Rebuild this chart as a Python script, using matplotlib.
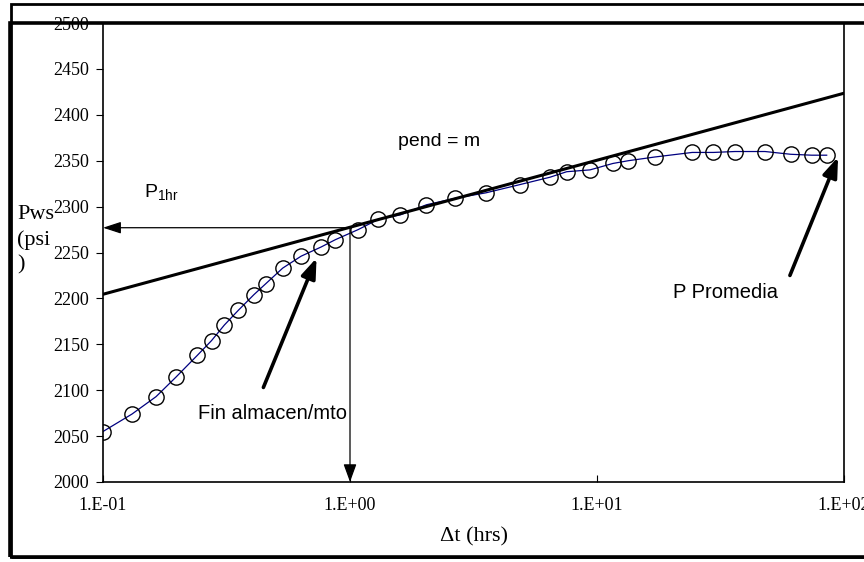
import matplotlib
matplotlib.use("Agg")
import matplotlib.pyplot as plt
from matplotlib.patches import Rectangle

# buildup test data, Pws vs dt (semilog)
dt = [0.1, 0.131, 0.164, 0.197, 0.241, 0.275, 0.31, 0.353, 0.408, 0.456,
      0.534, 0.634, 0.764, 0.873, 1.08, 1.30, 1.60, 2.04, 2.66, 3.55,
      4.88, 6.45, 7.54, 9.37, 11.6, 13.4, 17.1, 24.3, 29.6, 36.2,
      47.9, 60.8, 74.0, 85.1]
pws = [2055, 2074, 2093, 2114, 2138, 2154, 2171, 2187, 2204, 2216,
       2233, 2246, 2256, 2264, 2275, 2286, 2291, 2302, 2309, 2315,
       2324, 2332, 2338, 2340, 2347, 2350, 2354, 2359, 2359, 2360,
       2360, 2357, 2356, 2356]

# straight line (slope m)
tan_x = [0.1, 100]
tan_y = [2204.5, 2423.5]

p1hr = 2277
t1hr = 1.0

fin_tail = (0.446, 2103)
fin_tip = (0.732, 2244)
prom_tail = (60.4, 2225)
prom_tip = (94.6, 2354)

xticks = [0.1, 1, 10, 100]
xlabels = ['1.E-01', '1.E+00', '1.E+01', '1.E+02']
yticks = list(range(2000, 2501, 50))

W, H = 864, 562
serif = 'Liberation Serif'
sans = 'Liberation Sans'


def fx(x):
    return x / W


def fy(y):
    return 1 - y / H


fig = plt.figure(figsize=(8.64, 5.62), dpi=100)
ax = fig.add_axes([fx(103), fy(482), fx(844) - fx(103), fy(23) - fy(482)])

ax.plot(dt, pws, '-', color='#000080', lw=0.9, zorder=2)
ax.plot(dt, pws, 'o', mfc='none', mec='black', ms=11, mew=1.0, zorder=3)
ax.plot(tan_x, tan_y, '-', color='black', lw=2.2, zorder=4)

ax.set_xscale('log')
ax.set_xlim(0.1, 100)
ax.set_ylim(2000, 2500)
ax.set_xticks(xticks)
ax.set_xticklabels(xlabels)
ax.minorticks_off()
ax.set_yticks(yticks)
ax.tick_params(axis='x', direction='in', length=5, pad=11, labelsize=13)
ax.tick_params(axis='y', direction='out', length=5, pad=5, labelsize=13)
for lab in ax.get_xticklabels() + ax.get_yticklabels():
    lab.set_family(serif)
for s in ['left', 'bottom', 'right']:
    ax.spines[s].set_linewidth(1.2)
ax.spines['top'].set_visible(False)

ax.set_xlabel('\u0394t (hrs)', fontsize=16, family=serif)
ax.xaxis.set_label_coords(0.5, -0.12)
ax.xaxis.label.set_va('center')
ax.text(-0.116, 0.603, 'Pws\n(psi\n)', transform=ax.transAxes, ha='left', va='top',
        fontsize=16, family=serif, linespacing=1.4)

# thin arrows for P1hr
ax.annotate('', xy=(0.1, p1hr), xytext=(t1hr, p1hr),
            arrowprops=dict(arrowstyle='-|>,head_length=0.55,head_width=0.18', lw=0.9,
                            color='black', shrinkA=0, shrinkB=0, mutation_scale=20))
ax.annotate('', xy=(t1hr, 2000), xytext=(t1hr, p1hr),
            arrowprops=dict(arrowstyle='-|>,head_length=0.55,head_width=0.2', lw=0.9,
                            color='black', shrinkA=0, shrinkB=0, mutation_scale=20))

# thick arrows
for tail, tip in [(fin_tail, fin_tip), (prom_tail, prom_tip)]:
    ax.annotate('', xy=tip, xytext=tail,
                arrowprops=dict(arrowstyle='-|>,head_length=0.6,head_width=0.22', lw=2.6,
                                color='black', shrinkA=0, shrinkB=0, mutation_scale=20),
                zorder=5)

ax.text(0.398, 0.741, 'pend = m', transform=ax.transAxes, ha='left', va='center',
        fontsize=14, family=sans)
ax.text(0.056, 0.63, 'P$_{\\mathregular{1hr}}$', transform=ax.transAxes, ha='left',
        va='center', fontsize=14, family=sans)
ax.text(0.128, 0.150, 'Fin almacen/mto', transform=ax.transAxes, ha='left', va='center',
        fontsize=14.5, family=sans)
ax.text(0.769, 0.413, 'P Promedia', transform=ax.transAxes, ha='left', va='center',
        fontsize=14.5, family=sans)

# outer frames
fig.add_artist(Rectangle((fx(11), fy(557)), fx(900) - fx(11), fy(4) - fy(557),
                         transform=fig.transFigure, fill=False, lw=2.0, ec='black'))
fig.add_artist(Rectangle((fx(10), fy(557)), fx(900) - fx(10), fy(23) - fy(557),
                         transform=fig.transFigure, fill=False, lw=2.6, ec='black'))

fig.savefig('out.png', dpi=100)
